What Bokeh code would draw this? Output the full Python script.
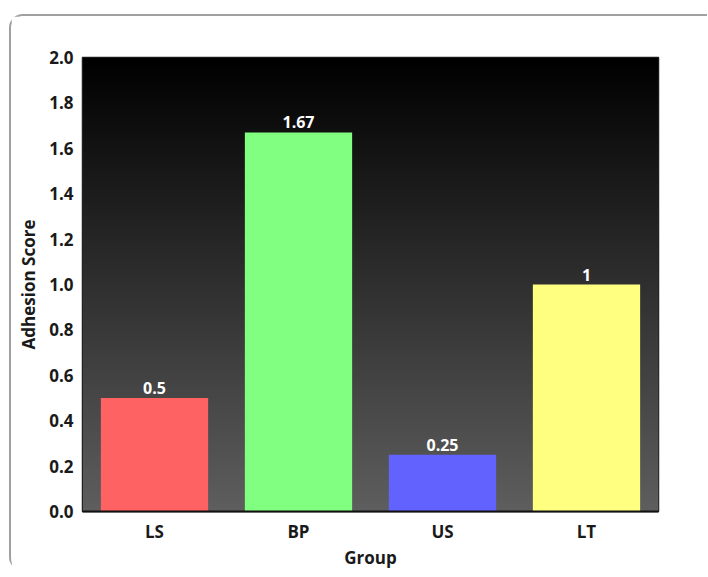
import numpy as np
from bokeh.plotting import figure
from bokeh.models import ColumnDataSource, FixedTicker, NumeralTickFormatter, FactorRange, Range1d
from bokeh.core.properties import value
from bokeh.embed import file_html
from bokeh.resources import INLINE

groups = ["LS", "BP", "US", "LT"]
scores = [0.5, 1.67, 0.25, 1.0]
score_labels = ["0.5", "1.67", "0.25", "1"]
colors = ["#ff6262", "#80ff80", "#6262ff", "#ffff80"]
y_ticks = [0.0, 0.2, 0.4, 0.6, 0.8, 1.0, 1.2, 1.4, 1.6, 1.8, 2.0]

FONT = "Open Sans"

p = figure(x_range=FactorRange(*groups, range_padding=0), y_range=Range1d(0, 2.0),
           frame_width=576, frame_height=454,
           min_border_left=71, min_border_top=41, min_border_right=49, min_border_bottom=60,
           output_backend="svg", toolbar_location=None)
p.styles = {"margin-left": "9px", "margin-top": "14px",
            "border-left": "2px solid #a0a0a0", "border-top": "2px solid #a0a0a0",
            "border-top-left-radius": "14px", "border-bottom-left-radius": "14px"}

# vertical gradient background of the plot frame (black at top, grey at bottom)
n = 256
t = np.linspace(0, 1, n)            # 0 at bottom row, 1 at top row
g = np.round(0x5e * (1 - t)).astype(np.uint32)
img = np.empty((n, 1), dtype=np.uint32)
img[:, 0] = (255 << 24) | (g << 16) | (g << 8) | g
p.image_rgba(image=[img], x=0, y=0, dw=len(groups), dh=2.0)

src = ColumnDataSource(dict(g=groups, v=scores, lab=score_labels, c=colors))
p.vbar(x="g", top="v", width=0.745, fill_color="c", line_color=None, source=src)
p.text(x="g", y="v", text="lab", source=src, text_color="white", text_align="center",
       text_baseline="bottom", y_offset=-4, text_font=value(FONT), text_font_style="bold",
       text_font_size="16px")

p.xgrid.visible = False
p.ygrid.visible = False
p.outline_line_color = "#222222"
p.outline_line_width = 1.5

p.yaxis.ticker = FixedTicker(ticks=y_ticks)
p.yaxis.formatter = NumeralTickFormatter(format="0.0")
for ax in (p.xaxis[0], p.yaxis[0]):
    ax.major_tick_line_color = None
    ax.minor_tick_line_color = None
    ax.major_tick_out = 0
    ax.major_tick_in = 0
    ax.minor_tick_out = 0
    ax.minor_tick_in = 0
    ax.major_label_text_font = FONT
    ax.major_label_text_font_style = "bold"
    ax.major_label_text_font_size = "17px"
    ax.major_label_text_color = "#1a1a1a"
    ax.axis_label_text_font = FONT
    ax.axis_label_text_font_style = "bold"
    ax.axis_label_text_font_size = "17px"
    ax.axis_label_text_color = "#1a1a1a"
p.yaxis.axis_line_color = "#222222"
p.xaxis.axis_line_color = "#111111"
p.xaxis.axis_line_width = 2
p.yaxis.major_label_standoff = 9
p.xaxis.major_label_standoff = 8
p.yaxis.axis_label = "Adhesion Score"
p.xaxis.axis_label = "Group"
p.yaxis.axis_label_standoff = 6
p.xaxis.axis_label_standoff = 0

open("out.html", "w").write(file_html(p, INLINE))
